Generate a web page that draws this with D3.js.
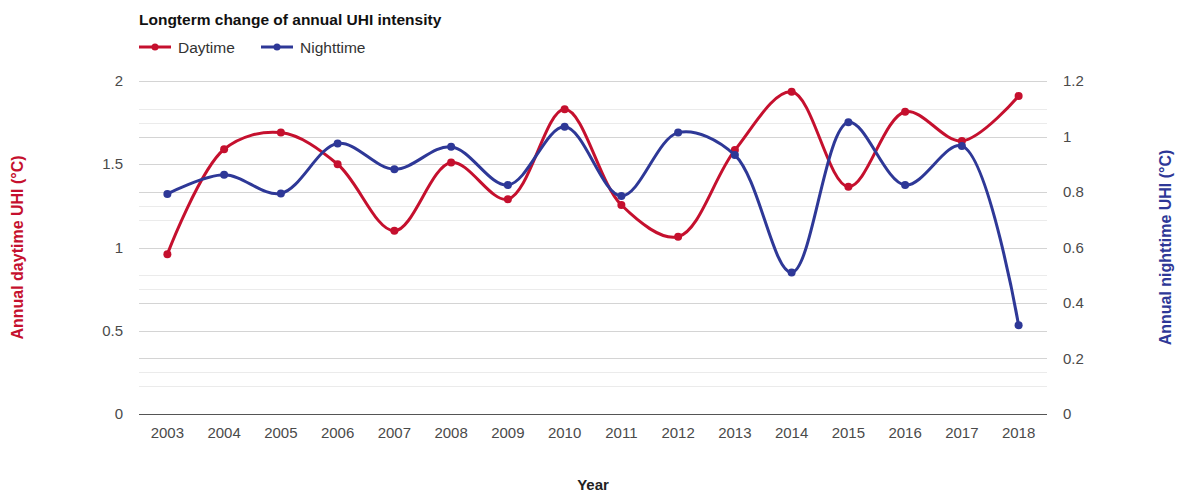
<!DOCTYPE html>
<html>
<head>
<meta charset="utf-8">
<script src="https://cdn.jsdelivr.net/npm/d3@7"></script>
<style>
  body { margin: 0; background: #fff; }
  svg { font-family: "Liberation Sans", Arial, sans-serif; }
</style>
</head>
<body>
<div id="chart"></div>
<script>
// chart data
const years = ["2003", "2004", "2005", "2006", "2007", "2008", "2009", "2010",
               "2011", "2012", "2013", "2014", "2015", "2016", "2017", "2018"];
const daytime = [0.96, 1.59, 1.69, 1.50, 1.10, 1.51, 1.29, 1.83,
                 1.255, 1.065, 1.585, 1.935, 1.365, 1.815, 1.64, 1.91];
const nighttime = [0.793, 0.862, 0.795, 0.975, 0.882, 0.963, 0.825, 1.035,
                   0.786, 1.014, 0.933, 0.51, 1.051, 0.825, 0.966, 0.32];
const leftTicks = [0, 0.5, 1, 1.5, 2];
const rightTicks = [0, 0.2, 0.4, 0.6, 0.8, 1, 1.2];

const width = 1177, height = 493;
const red = "#c5102e", blue = "#2e3897";
const plot = { left: 139, right: 1047, top: 81, bottom: 414 };

const svg = d3.select("#chart").append("svg")
    .attr("width", width)
    .attr("height", height);

const x = d3.scaleBand()
    .domain(years)
    .range([plot.left, plot.right]);
const yL = d3.scaleLinear().domain([0, 2]).range([plot.bottom, plot.top]);
const yR = d3.scaleLinear().domain([0, 1.2]).range([plot.bottom, plot.top]);

// gridlines: minor first, then major
const grid = svg.append("g");
const minorL = d3.range(0.25, 2, 0.5);
const minorR = d3.range(0.1, 1.2, 0.2);
grid.selectAll(".minor-l").data(minorL).enter().append("line")
    .attr("x1", plot.left).attr("x2", plot.right)
    .attr("y1", d => Math.round(yL(d)) + 0.5).attr("y2", d => Math.round(yL(d)) + 0.5)
    .attr("stroke", "#ebebeb");
grid.selectAll(".minor-r").data(minorR).enter().append("line")
    .attr("x1", plot.left).attr("x2", plot.right)
    .attr("y1", d => Math.round(yR(d)) + 0.5).attr("y2", d => Math.round(yR(d)) + 0.5)
    .attr("stroke", "#ebebeb");
grid.selectAll(".major-l").data(leftTicks.slice(1)).enter().append("line")
    .attr("x1", plot.left).attr("x2", plot.right)
    .attr("y1", d => Math.round(yL(d)) + 0.5).attr("y2", d => Math.round(yL(d)) + 0.5)
    .attr("stroke", "#d4d4d4");
grid.selectAll(".major-r").data(rightTicks.slice(1)).enter().append("line")
    .attr("x1", plot.left).attr("x2", plot.right)
    .attr("y1", d => Math.round(yR(d)) + 0.5).attr("y2", d => Math.round(yR(d)) + 0.5)
    .attr("stroke", "#d4d4d4");

// baseline
svg.append("line")
    .attr("x1", plot.left).attr("x2", plot.right)
    .attr("y1", yL(0) + 0.5).attr("y2", yL(0) + 0.5)
    .attr("stroke", "#555").attr("stroke-width", 1.2);

// axes labels
const tickColor = "#4a4a4a";
svg.append("g").selectAll("text").data(leftTicks).enter().append("text")
    .attr("x", 123).attr("y", d => yL(d) + 5)
    .attr("text-anchor", "end")
    .attr("font-size", 15).attr("fill", tickColor)
    .text(d => d3.format("")(d));
svg.append("g").selectAll("text").data(rightTicks).enter().append("text")
    .attr("x", 1063).attr("y", d => yR(d) + 5)
    .attr("text-anchor", "start")
    .attr("font-size", 15).attr("fill", tickColor)
    .text(d => d3.format("")(d));
svg.append("g").selectAll("text").data(years).enter().append("text")
    .attr("x", d => x(d) + x.bandwidth() / 2).attr("y", 438)
    .attr("text-anchor", "middle")
    .attr("font-size", 15).attr("fill", tickColor)
    .text(d => d);

// axis titles
svg.append("text")
    .attr("transform", `translate(23,${(plot.top + plot.bottom) / 2}) rotate(-90)`)
    .attr("text-anchor", "middle")
    .attr("font-size", 16).attr("font-weight", "bold").attr("fill", red)
    .text("Annual daytime UHI (°C)");
svg.append("text")
    .attr("transform", `translate(1171,${(plot.top + plot.bottom) / 2}) rotate(-90)`)
    .attr("text-anchor", "middle")
    .attr("font-size", 16).attr("font-weight", "bold").attr("fill", blue)
    .text("Annual nighttime UHI (°C)");
svg.append("text")
    .attr("x", 593).attr("y", 490)
    .attr("text-anchor", "middle")
    .attr("font-size", 15).attr("font-weight", "bold").attr("fill", "#222")
    .text("Year");

// title and legend
svg.append("text")
    .attr("x", plot.left).attr("y", 25)
    .attr("font-size", 15.5).attr("font-weight", "bold").attr("fill", "#111")
    .text("Longterm change of annual UHI intensity");

const legend = [
    { name: "Daytime", color: red, x: 139 },
    { name: "Nighttime", color: blue, x: 261 }
];
const lg = svg.append("g").selectAll("g").data(legend).enter().append("g")
    .attr("transform", d => `translate(${d.x},47)`);
lg.append("line").attr("x1", 0).attr("x2", 32)
    .attr("stroke", d => d.color).attr("stroke-width", 3);
lg.append("circle").attr("cx", 16).attr("r", 3.5).attr("fill", d => d.color);
lg.append("text").attr("x", 39).attr("y", 5.5)
    .attr("font-size", 15.5).attr("fill", "#333")
    .text(d => d.name);

// series
const series = [
    { values: daytime, scale: yL, color: red },
    { values: nighttime, scale: yR, color: blue }
];
series.forEach(s => {
    const line = d3.line()
        .x((d, i) => x(years[i]) + x.bandwidth() / 2)
        .y(d => s.scale(d))
        .curve(d3.curveCatmullRom.alpha(0.5));
    svg.append("path")
        .datum(s.values)
        .attr("d", line)
        .attr("fill", "none")
        .attr("stroke", s.color)
        .attr("stroke-width", 3);
    svg.append("g").selectAll("circle").data(s.values).enter().append("circle")
        .attr("cx", (d, i) => x(years[i]) + x.bandwidth() / 2)
        .attr("cy", d => s.scale(d))
        .attr("r", 4)
        .attr("fill", s.color);
});
</script>
</body>
</html>
